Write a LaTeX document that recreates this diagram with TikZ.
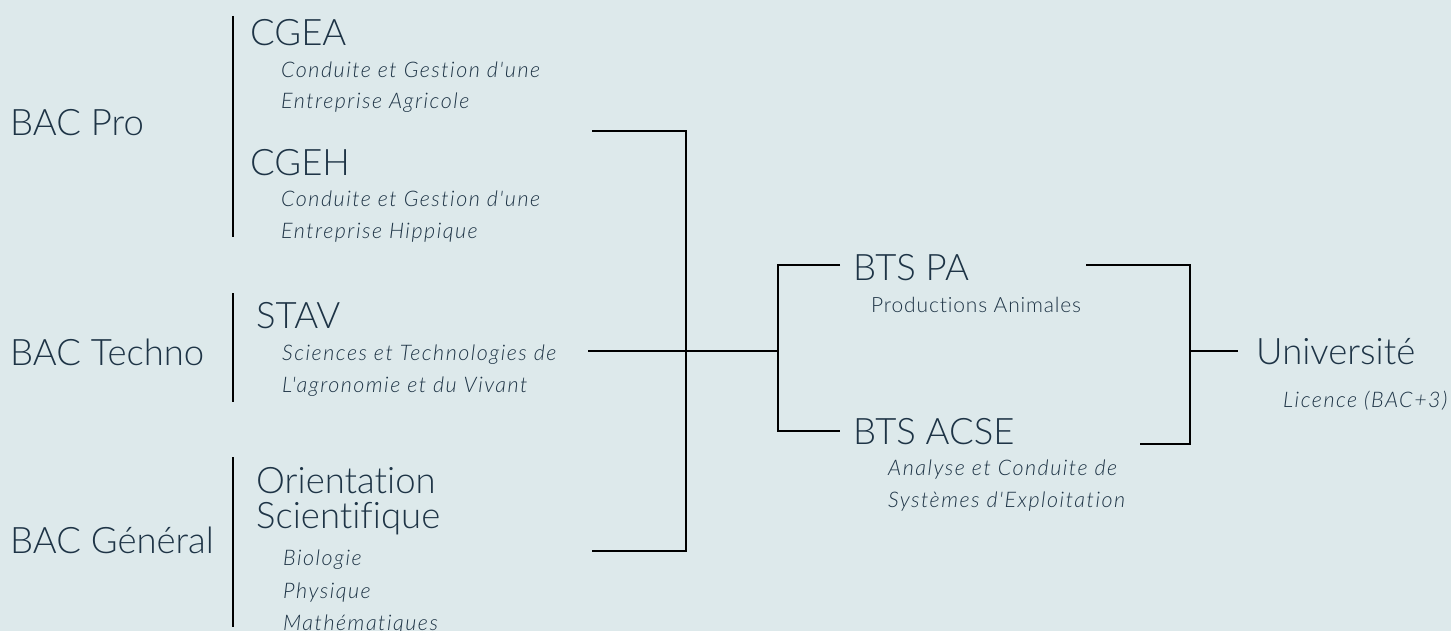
\documentclass[tikz,border=0pt]{standalone}
\usepackage{fontspec}
\setmainfont{Lato Light}[Ligatures=NoCommon]
\newfontfamily\smallfont{Lato Light}[LetterSpace=7,Ligatures=NoCommon]
\newfontfamily\smallupfont{Lato Light}[LetterSpace=4,Ligatures=NoCommon]
\definecolor{bg}{HTML}{DDE9EB}
\definecolor{ink}{HTML}{1E3446}
\tikzset{
  big/.style={anchor=base west,inner sep=0pt,text=ink,font=\fontsize{36.5}{36}\selectfont},
  small/.style={anchor=base west,inner sep=0pt,text=ink,font=\smallfont\fontsize{21.5}{31}\selectfont\itshape},
  smallup/.style={anchor=base west,inner sep=0pt,text=ink,font=\smallupfont\fontsize{21}{31}\selectfont},
  link/.style={draw=black,line width=2.7pt},
}
\begin{document}
\begin{tikzpicture}[x=1pt,y=-1pt]
\fill[bg] (0,0) rectangle (1451,631);
\useasboundingbox (0,0) rectangle (1451,631);
% left labels
\node[big] (bacpro) at (10,136) {BAC Pro};
\node[big] (bactech) at (10,365) {BAC Techno};
\node[big] (bacgen) at (10,553) {BAC Général};
% group bars
\coordinate (b1t) at (233,16); \coordinate (b1b) at (233,237);
\coordinate (b2t) at (233,293); \coordinate (b2b) at (233,402);
\coordinate (b3t) at (233,457); \coordinate (b3b) at (233,627);
\draw[link] (b1t) -- (b1b);
\draw[link] (b2t) -- (b2b);
\draw[link] (b3t) -- (b3b);
% BAC Pro options
\node[big] (cgea) at (250,46) {CGEA};
\node[small] (cgea1) at (281,78) {Conduite et Gestion d'une};
\node[small] (cgea2) at (281,109) {Entreprise Agricole};
\node[big] (cgeh) at (250,176) {CGEH};
\node[small] (cgeh1) at (281,207) {Conduite et Gestion d'une};
\node[small] (cgeh2) at (281,238) {Entreprise Hippique};
% STAV
\node[big] (stav) at (256,328) {STAV};
\node[small] (stav1) at (282,360) {Sciences et Technologies de};
\node[small] (stav2) at (282,392) {L'agronomie et du Vivant};
% Orientation
\node[big] (ori1) at (256,493) {Orientation};
\node[big] (ori2) at (256,528) {Scientifique};
\node[small] (bio) at (283,565) {Biologie};
\node[small] (phy) at (283,598) {Physique};
\node[small] (mat) at (283,630) {Mathématiques};
% BTS
\node[big] (btspa) at (853,280) {BTS PA};
\node[smallup] (btspa1) at (871,312) {Productions Animales};
\node[big] (btsacse) at (853,444) {BTS ACSE};
\node[small] (acse1) at (888,475) {Analyse et Conduite de};
\node[small] (acse2) at (888,507) {Systèmes d'Exploitation};
% Université
\node[big] (univ) at (1256,364) {Université};
\node[small] (lic) at (1283,407) {Licence (BAC+3)};
% bracket 1
\coordinate (k1a) at (592,131); \coordinate (k1b) at (686,131);
\coordinate (k1c) at (686,551); \coordinate (k1d) at (592,551);
\coordinate (k1m) at (588,351); \coordinate (k1j) at (778,351);
\draw[link] (k1a) -- (k1b) -- (k1c) -- (k1d);
\draw[link] (k1m) -- (k1j);
% bracket 2
\coordinate (k2a) at (840,265); \coordinate (k2b) at (778,265);
\coordinate (k2c) at (778,431); \coordinate (k2d) at (840,431);
\draw[link] (k2a) -- (k2b) -- (k2c) -- (k2d);
% bracket 3
\coordinate (k3a) at (1086,265); \coordinate (k3b) at (1190,265);
\coordinate (k3c) at (1190,444); \coordinate (k3d) at (1140,444);
\coordinate (k3m) at (1190,351); \coordinate (k3e) at (1238,351);
\draw[link] (k3a) -- (k3b) -- (k3c) -- (k3d);
\draw[link] (k3m) -- (k3e);
\end{tikzpicture}
\end{document}
